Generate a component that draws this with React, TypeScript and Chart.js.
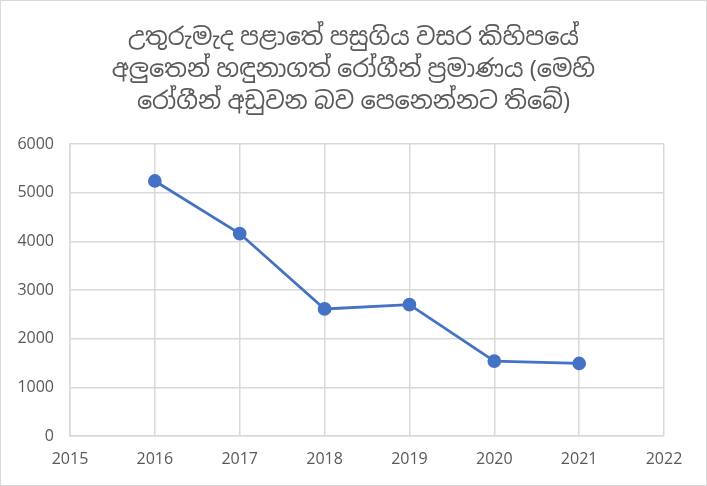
import React, { useEffect, useRef } from "react";
import { Chart, registerables } from "chart.js";

Chart.register(...registerables);

const titleLines = [
  "උතුරුමැද පළාතේ පසුගිය වසර කිහිපයේ",
  "අලුතෙන් හඳුනාගත් රෝගීන් ප්‍රමාණය (මෙහි",
  "රෝගීන් අඩුවන බව පෙනෙන්නට තිබේ)",
];
const years = [2016, 2017, 2018, 2019, 2020, 2021];
const patients = [5240, 4160, 2610, 2700, 1540, 1490];

export default function App() {
  const ref = useRef<HTMLCanvasElement>(null);
  useEffect(() => {
    document.body.style.margin = "0";
    const ctx = ref.current!;
    const font = "'Segoe UI', 'Open Sans', 'Noto Sans', 'Noto Sans Sinhala', 'DejaVu Sans', sans-serif";
    const chart = new Chart(ctx, {
      type: "line",
      data: {
        datasets: [
          {
            data: years.map((y, i) => ({ x: y, y: patients[i] })),
            borderColor: "#4472C4",
            backgroundColor: "#4472C4",
            borderWidth: 2.75,
            pointRadius: 5.5,
            pointHoverRadius: 5.5,
            pointBackgroundColor: "#4472C4",
            pointBorderColor: "#4472C4",
            tension: 0,
          },
        ],
      },
      options: {
        animation: false,
        responsive: false,
        layout: { padding: { left: 0, right: 0, top: 21, bottom: 0 } },
        plugins: {
          legend: { display: false },
          tooltip: { enabled: false },
          title: {
            display: true,
            text: titleLines,
            color: "#595959",
            font: { family: font, size: 24, weight: "normal", lineHeight: "32px" },
            padding: { top: 0, bottom: 26 },
          },
        },
        scales: {
          x: {
            type: "linear",
            min: 2015,
            max: 2022,
            ticks: {
              stepSize: 1,
              color: "#595959",
              font: { family: font, size: 16 },
              padding: 14,
              callback: (v: any) => String(v),
            },
            grid: { color: "#d9d9d9", lineWidth: 1.5, drawTicks: false },
            border: { color: "#d9d9d9", width: 1.5 },
            afterFit: (s: any) => {
              s.height = 49;
            },
          },
          y: {
            min: 0,
            max: 6000,
            ticks: {
              stepSize: 1000,
              color: "#595959",
              font: { family: font, size: 16 },
              padding: 16,
              callback: (v: any) => String(v),
            },
            grid: { color: "#d9d9d9", lineWidth: 1.5, drawTicks: false },
            border: { color: "#d9d9d9", width: 1.5 },
            afterFit: (s: any) => {
              s.width = 69;
            },
          },
          yRight: {
            position: "right",
            min: 0,
            max: 6000,
            ticks: { display: false },
            grid: { display: false, drawTicks: false },
            border: { display: false },
            afterFit: (s: any) => {
              s.width = 42;
            },
          },
        },
      },
    });
    return () => chart.destroy();
  }, []);
  return (
    <div
      style={{
        width: 707,
        height: 486,
        boxSizing: "border-box",
        border: "1px solid #d9d9d9",
        background: "#fff",
        overflow: "hidden",
      }}
    >
      <canvas ref={ref} width={705} height={484} style={{ display: "block" }} />
    </div>
  );
}
